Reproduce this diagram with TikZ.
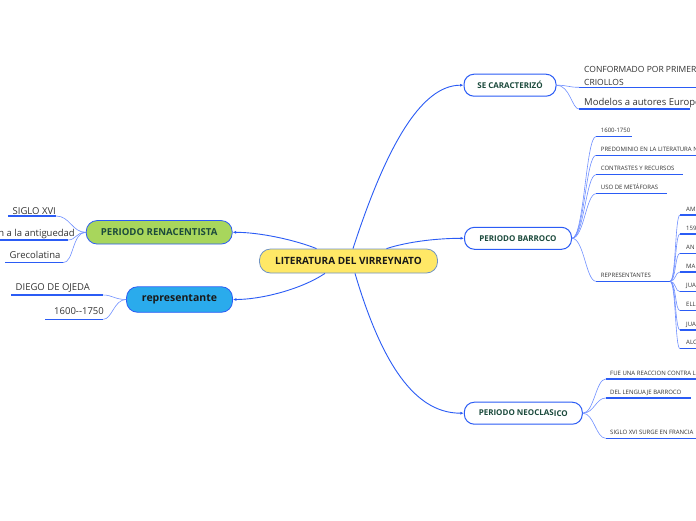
\documentclass[tikz,border=0pt]{standalone}
\usepackage{fontspec}
\setmainfont{Open Sans}
\usetikzlibrary{arrows.meta}
\definecolor{lineblue}{HTML}{2B5CF5}
\definecolor{subblue}{HTML}{6F8FFF}
\definecolor{textgreen}{HTML}{1B4A3C}
\definecolor{yel}{HTML}{FFE866}
\definecolor{grn}{HTML}{A8D65C}
\definecolor{sky}{HTML}{2AABEC}
\definecolor{cborder}{HTML}{6F93C4}
\definecolor{txt}{HTML}{333333}
\begin{document}
\begin{tikzpicture}[x=1pt,y=-1pt,
  central/.style={draw=cborder, line width=0.8pt, fill=yel, rounded corners=11pt, minimum width=178pt, minimum height=24pt, inner sep=0pt, font=\bfseries\fontsize{10}{11}\selectfont, text=black!90},
  mainbox/.style={draw=lineblue, line width=1pt, fill=white, rounded corners=10pt, minimum height=22pt, inner sep=0pt, font=\bfseries\fontsize{8}{9}\selectfont, text=textgreen},
  leftbox/.style={draw=lineblue, line width=0.8pt, rounded corners=11pt, inner sep=0pt},
  branch/.style={draw=lineblue, line width=0.9pt, -{Latex[length=3.5pt,width=3pt]}},
  sub/.style={draw=subblue, line width=0.6pt},
  uline/.style={draw=lineblue, line width=1.3pt},
  midtxt/.style={anchor=base west, inner sep=0pt, font=\fontsize{9.5}{11}\selectfont, text=txt},
  tinytxt/.style={anchor=base west, inner sep=0pt, font=\fontsize{6}{7}\selectfont, text=txt},
]
\useasboundingbox (0,0) rectangle (696,520);
\fill[white] (0,0) rectangle (696,520);
\clip (0,0) rectangle (696,520);

% main nodes
\node[central] (c) at (348.5,261) {LITERATURA DEL VIRREYNATO};
\node[mainbox, minimum width=92pt] (se) at (510,85.2) {SE CARACTERIZÓ};
\node[mainbox, minimum width=107pt] (ba) at (518,238.3) {PERIODO BARROCO};
\node[mainbox, minimum width=118pt] (ne) at (523.3,413.2) {PERIODO NEOCLAS\raisebox{-1pt}{ICO}};
\node[leftbox, fill=grn, minimum width=146pt, minimum height=23.5pt, text=textgreen, font=\bfseries\fontsize{9.6}{11}\selectfont] (re) at (159.2,232.3) {PERIODO RENACENTISTA};
\node[leftbox, fill=sky, minimum width=106pt, minimum height=25.5pt, text=black!90, font=\bfseries\fontsize{10.5}{12}\selectfont] (rp) at (179.5,299.5) {representante};

% main branches
\draw[branch] ([xshift=4.5pt]c.north) .. controls (385,150) and (420,85.2) .. (se.west);
\draw[branch] ([xshift=38pt]c.north) .. controls (410,241) and (440,238.3) .. (ba.west);
\draw[branch] ([xshift=6.5pt]c.south) .. controls (385,375) and (420,413.2) .. (ne.west);
\draw[branch] ([xshift=-32pt]c.north) .. controls (295,240) and (260,232.3) .. (re.east);
\draw[branch] ([xshift=-23.5pt]c.south) .. controls (300,290) and (260,299.5) .. (rp.east);

% SE CARACTERIZO children
\coordinate (s1a) at (579,87.3); \coordinate (s1b) at (696,87.3);
\coordinate (s2a) at (579,109); \coordinate (s2b) at (690,109);
\draw[uline] (s1a) -- (s1b);
\draw[uline] (s2a) -- (s2b);
\draw[sub] (se.east) .. controls (568,85.2) and (568,87.3) .. (s1a);
\draw[sub] (se.east) .. controls (570,85.2) and (572,109) .. (s2a);
\node[midtxt, font=\fontsize{8.5}{10}\selectfont] (t1) at (584,72.3) {CONFORMADO POR PRIMER};
\node[midtxt, font=\fontsize{8.5}{10}\selectfont] (t1b) at (584,85.3) {CRIOLLOS};
\node[midtxt] (t2) at (584,105.7) {Modelos a autores Europe};

% BARROCO children
\coordinate (b1a) at (596,136.5); \coordinate (b1b) at (632,136.5);
\coordinate (b2a) at (596,155.3); \coordinate (b2b) at (696,155.3);
\coordinate (b3a) at (596,174.7); \coordinate (b3b) at (683,174.7);
\coordinate (b4a) at (596,193.7); \coordinate (b4b) at (667,193.7);
\coordinate (b5a) at (596,281.3); \coordinate (b5b) at (670,281.3);
\foreach \i in {1,...,5} {\draw[uline] (b\i a) -- (b\i b);}
\foreach \i/\yy in {1/136.5,2/155.3,3/174.7,4/193.7,5/281.3}
  {\draw[sub] (ba.east) .. controls (584,238.3) and (586,\yy) .. (b\i a);}
\node[tinytxt] (bt1) at (600.7,132.5) {1600-1750};
\node[tinytxt] (bt2) at (600.7,151.3) {PREDOMINIO EN LA LITERATURA N};
\node[tinytxt] (bt3) at (600.7,170.7) {CONTRASTES Y RECURSOS};
\node[tinytxt] (bt4) at (600.7,189.7) {USO DE METÁFORAS};
\node[tinytxt] (bt5) at (600.7,277.3) {REPRESENTANTES};

% REPRESENTANTES children
\foreach \i/\yy/\tt in {1/215/AM,2/234/159,3/253.3/AN,4/272/MA,5/291.7/JUA,6/310.7/ELL,7/330/JUA,8/348.7/ALC}{
  \coordinate (r\i a) at (680,\yy);
  \coordinate (r\i b) at (696,\yy);
  \draw[uline] (r\i a) -- (r\i b);
  \draw[sub] (b5b) .. controls (676,281.3) and (675,\yy) .. (r\i a);
  \node[tinytxt] (rt\i) at (686,\yy-4) {\tt};
}

% NEOCLASICO children
\coordinate (n1a) at (605.7,379); \coordinate (n1b) at (696,379);
\coordinate (n2a) at (605.7,398); \coordinate (n2b) at (690.7,398);
\coordinate (n3a) at (605.7,438.3); \coordinate (n3b) at (696,438.3);
\foreach \i in {1,2,3} {\draw[uline] (n\i a) -- (n\i b);}
\foreach \i/\yy in {1/379,2/398,3/438.3}
  {\draw[sub] (ne.east) .. controls (594,413.2) and (596,\yy) .. (n\i a);}
\node[tinytxt] (nt1) at (610,375) {FUE UNA REACCION CONTRA L};
\node[tinytxt] (nt2) at (610,394) {DEL LENGUAJE BARROCO};
\node[tinytxt] (nt3) at (610,434.3) {SIGLO XVI SURGE EN FRANCIA};

% RENACENTISTA children
\coordinate (l1a) at (8,216); \coordinate (l1b) at (56,216);
\coordinate (l2a) at (0,240); \coordinate (l2b) at (68,240);
\coordinate (l3a) at (5,262.7); \coordinate (l3b) at (63,262.7);
\foreach \i in {1,2,3} {\draw[uline] (l\i a) -- (l\i b);}
\draw[sub] (re.west) .. controls (72,232.3) and (70,216) .. (l1b);
\draw[sub] (re.west) .. controls (76,232.3) and (76,240) .. (l2b);
\draw[sub] (re.west) .. controls (72,232.3) and (74,262.7) .. (l3b);
\node[midtxt] (lt1) at (12.5,214) {SIGLO XVI};
\node[midtxt, anchor=base east] (lt2) at (75,236.5) {n a la antiguedad};
\node[midtxt] (lt3) at (9.5,258.5) {Grecolatina};

% representante children
\coordinate (p1a) at (11,295); \coordinate (p1b) at (103.3,295);
\coordinate (p2a) at (45,319.3); \coordinate (p2b) at (103.3,319.3);
\draw[uline] (p1a) -- (p1b);
\draw[uline] (p2a) -- (p2b);
\draw[sub] (rp.west) .. controls (115,299.5) and (112,295) .. (p1b);
\draw[sub] (rp.west) .. controls (114,299.5) and (112,319.3) .. (p2b);
\node[midtxt] (pt1) at (15.5,290.5) {DIEGO DE OJEDA};
\node[midtxt, anchor=base east] (pt2) at (104,314.5) {1600-{}-1750};
\end{tikzpicture}
\end{document}
